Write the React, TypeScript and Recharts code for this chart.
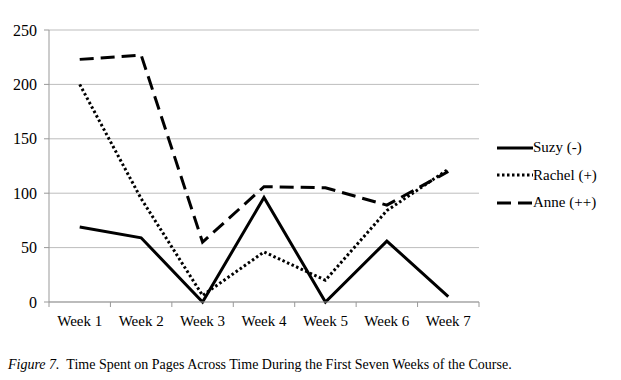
import React from "react";
import {
  LineChart,
  Line,
  XAxis,
  YAxis,
  CartesianGrid,
} from "recharts";

const weeks = ["Week 1", "Week 2", "Week 3", "Week 4", "Week 5", "Week 6", "Week 7"];
const suzy = [69, 59, 0, 96, 0, 56, 5];
const rachel = [200, 95, 6, 46, 20, 84, 122];
const anne = [223, 227, 55, 106, 105, 89, 120];
const yTicks = [0, 50, 100, 150, 200, 250];

const data = weeks.map((w, i) => ({
  week: w,
  suzy: suzy[i],
  rachel: rachel[i],
  anne: anne[i],
}));

const series = [
  { key: "suzy", name: "Suzy (-)", dash: undefined },
  { key: "rachel", name: "Rachel (+)", dash: "2.5 2.5" },
  { key: "anne", name: "Anne (++)", dash: "14 7" },
];

const FONT = "'Liberation Serif', 'Times New Roman', 'DejaVu Serif', serif";
const PLOT_LEFT = 49;
const PLOT_RIGHT = 479;
const BAND = (PLOT_RIGHT - PLOT_LEFT) / weeks.length;

// category boundary tick marks, Excel style
const WeekTick = (props: any) => {
  const { x, y, payload, index } = props;
  const left = x - BAND / 2;
  return (
    <g>
      <line x1={left} x2={left} y1={y - 8} y2={y - 3} stroke="#999" />
      {index === weeks.length - 1 && (
        <line x1={x + BAND / 2} x2={x + BAND / 2} y1={y - 8} y2={y - 3} stroke="#999" />
      )}
      <text x={x} y={y + 16} textAnchor="middle" fill="#000" fontSize={15} style={{ fontFamily: FONT }}>
        {payload.value}
      </text>
    </g>
  );
};

const LegendBox = () => (
  <div style={{ position: "absolute", left: 497, top: 134, fontFamily: FONT, fontSize: 15, color: "#000" }}>
    {series.map((s) => (
      <div key={s.key} style={{ display: "flex", alignItems: "center", height: 27.5 }}>
        <svg width={36} height={6}>
          <line x1={0} x2={36} y1={3} y2={3} stroke="#000" strokeWidth={3} strokeDasharray={s.dash} />
        </svg>
        <span>{s.name}</span>
      </div>
    ))}
  </div>
);

export default function App() {
  return (
    <div style={{ position: "absolute", left: 0, top: 0, width: 621, height: 380, background: "#fff" }}>
      <LineChart
        width={621}
        height={335}
        data={data}
        margin={{ top: 30, right: 621 - PLOT_RIGHT, left: 0, bottom: 0 }}
      >
        <CartesianGrid vertical={false} stroke="#bdbdbd" />
        <XAxis
          dataKey="week"
          height={33}
          tickLine={false}
          stroke="#999"
          tick={<WeekTick />}
          interval={0}
          padding={{ left: BAND / 2, right: BAND / 2 }}
        />
        <YAxis
          width={PLOT_LEFT}
          domain={[0, 250]}
          ticks={yTicks}
          stroke="#999"
          tickSize={5}
          tickMargin={7}
          tick={{ fill: "#000", fontSize: 16, style: { fontFamily: FONT } }}
        />
        {series.map((s) => (
          <Line
            key={s.key}
            dataKey={s.key}
            name={s.name}
            stroke="#000"
            strokeWidth={3}
            strokeDasharray={s.dash}
            dot={false}
            activeDot={false}
            isAnimationActive={false}
          />
        ))}
      </LineChart>
      <LegendBox />
      <div
        style={{
          position: "absolute",
          left: 8,
          top: 357,
          fontFamily: FONT,
          fontSize: 14,
          color: "#000",
          whiteSpace: "nowrap",
        }}
      >
        <i>Figure 7.</i>&nbsp; Time Spent on Pages Across Time During the First Seven Weeks of the Course.
      </div>
    </div>
  );
}
